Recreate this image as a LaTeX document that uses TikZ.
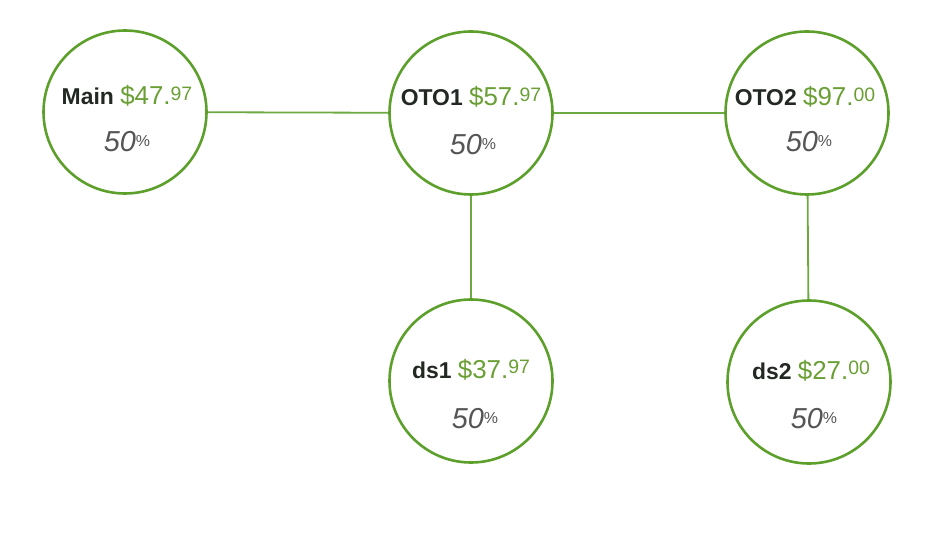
\documentclass[tikz,border=0pt]{standalone}
\usepackage{fontspec}
\setmainfont{Liberation Sans}
\definecolor{ringgreen}{HTML}{5C9F2B}
\definecolor{pricegreen}{HTML}{6A9F35}
\definecolor{namedark}{HTML}{222822}
\definecolor{pctgray}{HTML}{555555}
\newcommand{\price}[2]{{\color{pricegreen}\fontsize{26}{29}\selectfont\$#1.\raisebox{4bp}{\fontsize{19.5}{21}\selectfont #2}}}
\newcommand{\pct}[1]{{\color{pctgray}\fontsize{29}{32}\selectfont\textit{#1}\raisebox{5bp}{\fontsize{16}{18}\selectfont\%}}}

\begin{document}
\begin{tikzpicture}[x=1bp,y=-1bp,
  ring/.style={circle,draw=ringgreen,line width=2.6bp,minimum size=163bp,inner sep=0pt},
  link/.style={draw=ringgreen!90!white,line width=1.8bp},
  tag/.style={align=center,inner sep=0pt,text=namedark}]
  \useasboundingbox (0,0) rectangle (939,535);

  \node[ring] (main) at (125,112) {};
  \node[ring] (oto1) at (471,113) {};
  \node[ring] (oto2) at (807,113) {};
  \node[ring] (ds1) at (471,381) {};
  \node[ring] (ds2) at (809,382) {};

  \draw[link] (main) -- (oto1);
  \draw[link] (oto1) -- (oto2);
  \draw[link] (oto1) -- (ds1);
  \draw[link] (oto2) -- (ds2);

  \node[tag,anchor=base] (maintxt) at (127,105) {\fontsize{23}{27}\selectfont\textbf{Main} \price{47}{97}};
  \node[tag,anchor=base] (mainpct) at (127,152) {\pct{50}};
  \node[tag,anchor=base] (oto1txt) at (471,106) {\fontsize{23}{27}\selectfont\textbf{OTO1} \price{57}{97}};
  \node[tag,anchor=base] (oto1pct) at (473,155) {\pct{50}};
  \node[tag,anchor=base] (oto2txt) at (805,106) {\fontsize{23}{27}\selectfont\textbf{OTO2} \price{97}{00}};
  \node[tag,anchor=base] (oto2pct) at (809,152) {\pct{50}};
  \node[tag,anchor=base] (ds1txt) at (471,378) {\fontsize{23}{27}\selectfont\textbf{ds1} \price{37}{97}};
  \node[tag,anchor=base] (ds1pct) at (475,428) {\pct{50}};
  \node[tag,anchor=base] (ds2txt) at (811,379) {\fontsize{23}{27}\selectfont\textbf{ds2} \price{27}{00}};
  \node[tag,anchor=base] (ds2pct) at (814,428) {\pct{50}};
\end{tikzpicture}
\end{document}
